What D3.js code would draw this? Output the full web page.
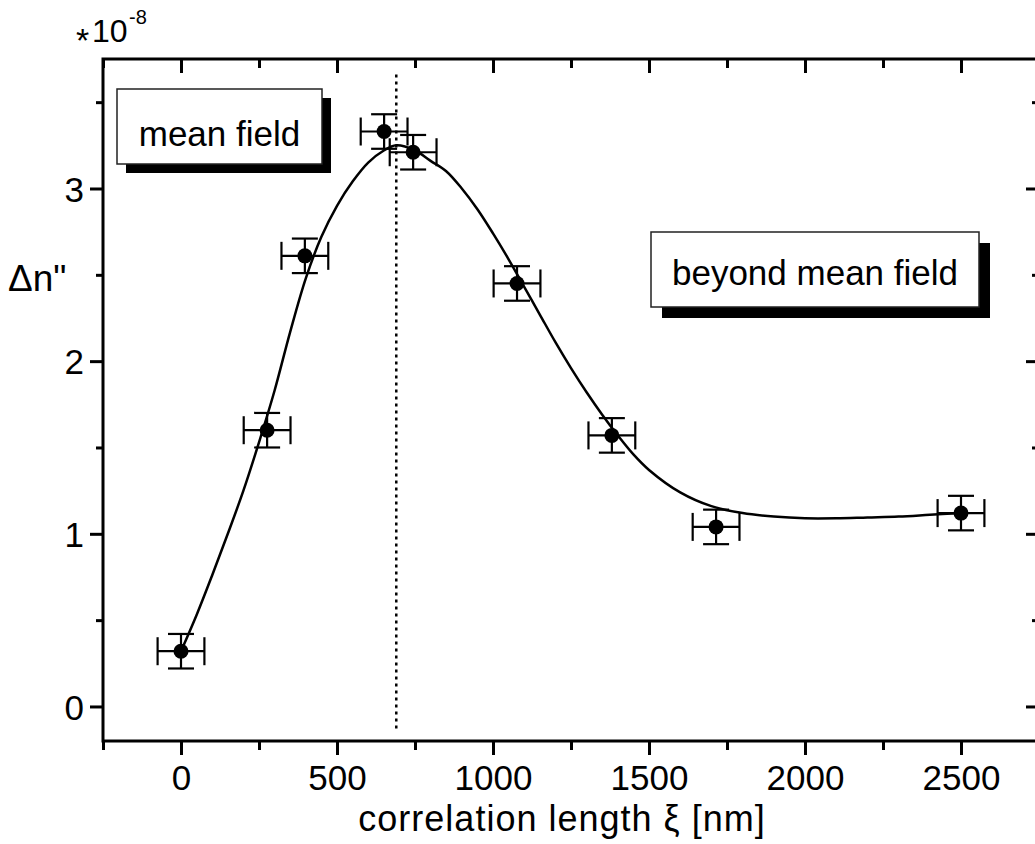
<!DOCTYPE html>
<html>
<head>
<meta charset="utf-8">
<script src="https://cdn.jsdelivr.net/npm/d3@7"></script>
<style>
  html, body { margin: 0; padding: 0; background: #fff; }
  svg { display: block; }
  text { font-family: "Liberation Sans", Arial, sans-serif; fill: #000; }
</style>
</head>
<body>
<svg id="chart" width="1035" height="844"></svg>
<script>
// ---- data ----
const xi = [0, 276, 397, 651, 744, 1077, 1381, 1715, 2500];          // correlation length [nm]
const dn = [0.32, 1.60, 2.61, 3.33, 3.21, 2.45, 1.57, 1.04, 1.12];     // Δn'' (×1e-8)
const xErr = [75, 75, 75, 75, 75, 75, 75, 75, 75];
const yErr = [0.1, 0.1, 0.1, 0.1, 0.1, 0.1, 0.1, 0.1, 0.1];
const fitX = [0, 50, 100, 150, 200, 250, 300, 350, 400, 450, 500, 550, 600, 650, 690, 750, 800, 850, 900, 950, 1000, 1050, 1100, 1150, 1200, 1250, 1300, 1350, 1400, 1450, 1500, 1600, 1700, 1800, 1900, 2000, 2100, 2200, 2300, 2400, 2500];
const fitY = [0.32, 0.53, 0.76, 1.00, 1.25, 1.53, 1.83, 2.17, 2.48, 2.72, 2.90, 3.04, 3.15, 3.22, 3.25, 3.22, 3.16, 3.10, 3.00, 2.88, 2.74, 2.59, 2.43, 2.27, 2.11, 1.96, 1.82, 1.69, 1.57, 1.46, 1.37, 1.24, 1.16, 1.12, 1.10, 1.09, 1.09, 1.095, 1.10, 1.11, 1.12];
const xMajorTicks = [0, 500, 1000, 1500, 2000, 2500];
const xMinorTicks = [-250, 250, 750, 1250, 1750, 2250, 2750];
const yMajorTicks = [0, 1, 2, 3];
const yMinorTicks = [0.5, 1.5, 2.5, 3.5];
const dottedX = 690;
const xTitle = "correlation length \u03BE [nm]";
const yTitle = "\u0394n\"";
const boxLabels = ["mean field", "beyond mean field"];

// ---- layout ----
const svg = d3.select("#chart");
const L = 103, R = 1039, T = 59, B = 741;
const x = d3.scaleLinear().domain([-250, 2750]).range([L, R]);
const y = d3.scaleLinear().domain([-0.2, 3.75]).range([B, T]);
const FS = 35;

function styleAxis(g) {
  g.select(".domain").remove();
  g.selectAll(".tick line").attr("stroke", "#000").attr("stroke-width", 3);
  g.selectAll(".tick text").attr("font-size", FS).attr("font-family", "Liberation Sans, Arial, sans-serif");
}

// bottom axis
const gB = svg.append("g").attr("transform", `translate(0,${B})`);
gB.call(d3.axisBottom(x).tickValues(xMajorTicks).tickSize(14).tickPadding(10).tickFormat(d3.format("d")));
styleAxis(gB);
gB.append("g").call(d3.axisBottom(x).tickValues(xMinorTicks).tickSize(9).tickFormat(""))
  .call(g => { g.select(".domain").remove(); g.selectAll("line").attr("stroke", "#000").attr("stroke-width", 3); });

// top axis (inward ticks)
const gT = svg.append("g").attr("transform", `translate(0,${T})`);
gT.call(d3.axisBottom(x).tickValues(xMajorTicks).tickSize(14).tickFormat(""));
gT.append("g").call(d3.axisBottom(x).tickValues(xMinorTicks).tickSize(9).tickFormat(""));
gT.selectAll(".domain").remove();
gT.selectAll("line").attr("stroke", "#000").attr("stroke-width", 3);

// left axis
const gL = svg.append("g").attr("transform", `translate(${L},0)`);
gL.call(d3.axisLeft(y).tickValues(yMajorTicks).tickSize(13).tickPadding(6).tickFormat(d3.format("d")));
styleAxis(gL);
gL.selectAll(".tick text").attr("dy", "0.36em");
gL.append("g").call(d3.axisLeft(y).tickValues(yMinorTicks).tickSize(7).tickFormat(""))
  .call(g => { g.select(".domain").remove(); g.selectAll("line").attr("stroke", "#000").attr("stroke-width", 3); });

// right axis (inward ticks)
const gR = svg.append("g").attr("transform", `translate(${R},0)`);
gR.call(d3.axisRight(y).tickValues(yMajorTicks).tickSize(-13).tickFormat(""));
gR.append("g").call(d3.axisRight(y).tickValues(yMinorTicks).tickSize(-7).tickFormat(""));
gR.selectAll(".domain").remove();
gR.selectAll("line").attr("stroke", "#000").attr("stroke-width", 3);

// frame
svg.append("rect").attr("x", L).attr("y", T).attr("width", R - L).attr("height", B - T)
  .attr("fill", "none").attr("stroke", "#000").attr("stroke-width", 3);

// dotted line
svg.append("line")
  .attr("x1", x(dottedX)).attr("x2", x(dottedX))
  .attr("y1", y(3.66)).attr("y2", y(-0.13))
  .attr("stroke", "#000").attr("stroke-width", 2.5).attr("stroke-dasharray", "3,4");

// fit curve
const fit = fitX.map((d, i) => [d, fitY[i]]);
svg.append("path").datum(fit)
  .attr("d", d3.line().x(d => x(d[0])).y(d => y(d[1])).curve(d3.curveCatmullRom.alpha(0.5)))
  .attr("fill", "none").attr("stroke", "#000").attr("stroke-width", 2.5);

// error bars and points
const pts = xi.map((d, i) => ({ x: d, y: dn[i], ex: xErr[i], ey: yErr[i] }));
const gp = svg.append("g").attr("stroke", "#000").attr("stroke-width", 2.2);
pts.forEach(p => {
  const cx = x(p.x), cy = y(p.y);
  const xl = x(p.x - p.ex), xr = x(p.x + p.ex);
  const yt = y(p.y + p.ey), yb = y(p.y - p.ey);
  gp.append("line").attr("x1", xl).attr("x2", xr).attr("y1", cy).attr("y2", cy);
  gp.append("line").attr("x1", xl).attr("x2", xl).attr("y1", cy - 14).attr("y2", cy + 14);
  gp.append("line").attr("x1", xr).attr("x2", xr).attr("y1", cy - 14).attr("y2", cy + 14);
  gp.append("line").attr("x1", cx).attr("x2", cx).attr("y1", yt).attr("y2", yb);
  gp.append("line").attr("x1", cx - 13).attr("x2", cx + 13).attr("y1", yt).attr("y2", yt);
  gp.append("line").attr("x1", cx - 13).attr("x2", cx + 13).attr("y1", yb).attr("y2", yb);
});
svg.append("g").selectAll("circle").data(pts).join("circle")
  .attr("cx", d => x(d.x)).attr("cy", d => y(d.y)).attr("r", 7.5).attr("fill", "#000");

// annotation boxes with shadow
function box(x0, y0, w, h, off, label, ty) {
  const g = svg.append("g");
  g.append("rect").attr("x", x0 + off).attr("y", y0 + off).attr("width", w).attr("height", h).attr("fill", "#000");
  g.append("rect").attr("x", x0).attr("y", y0).attr("width", w).attr("height", h)
    .attr("fill", "#fff").attr("stroke", "#222").attr("stroke-width", 1.5);
  g.append("text").attr("x", x0 + w / 2).attr("y", ty).attr("text-anchor", "middle")
    .attr("font-size", FS).text(label);
}
box(117, 89, 205, 75, 9, boxLabels[0], 146);
box(651, 232, 328, 75, 11, boxLabels[1], 285);

// axis titles
svg.append("text").attr("x", 562).attr("y", 831).attr("text-anchor", "middle")
  .attr("font-size", 36).attr("letter-spacing", 1).text(xTitle);
svg.append("text").attr("x", 8).attr("y", 291).attr("font-size", 37).text(yTitle);

// multiplier label
svg.append("text").attr("x", 76).attr("y", 52).attr("font-size", 34).text("*");
svg.append("text").attr("x", 92).attr("y", 42).attr("font-size", 32).text("10");
svg.append("text").attr("x", 129).attr("y", 24).attr("font-size", 20).text("-8");
</script>
</body>
</html>
